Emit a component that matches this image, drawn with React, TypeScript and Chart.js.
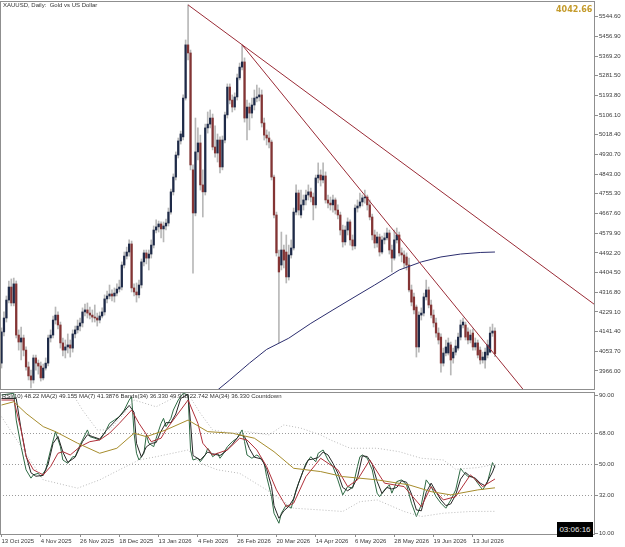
import React, { useEffect, useRef } from 'react';
import { Chart, registerables } from 'chart.js';

Chart.register(...registerables);

// ---------- DATA ----------
const dateLabels = ['13 Oct 2025', '4 Nov 2025', '26 Nov 2025', '18 Dec 2025', '13 Jan 2026', '4 Feb 2026', '26 Feb 2026', '20 Mar 2026', '14 Apr 2026', '6 May 2026', '28 May 2026', '19 Jun 2026', '13 Jul 2026'];
const dateBars = [0, 16, 32, 48, 64, 80, 96, 112, 128, 144, 160, 176, 192];

const priceTicks = [3966.0, 4053.7, 4141.4, 4229.1, 4316.8, 4404.5, 4492.2, 4579.9, 4667.6, 4755.3, 4843.0, 4930.7, 5018.4, 5106.1, 5193.8, 5281.5, 5369.2, 5456.9, 5544.6];
const rsiTicks = [10, 32, 50, 68, 90];
const rsiLevels = [32, 50, 68];

const openP = [4001,4140,4202,4282,4340,4269,4354,4126,4095,4113, 4059,3984,3944,3926,4024,4001,3988,3935,3979,4001, 4113,4126,4193,4215,4171,4091,4059,4073,4082,4068, 4131,4149,4166,4180,4229,4238,4224,4215,4206,4202, 4193,4211,4229,4287,4300,4309,4300,4313,4331,4340, 4438,4478,4496,4532,4336,4318,4305,4349,4452,4492, 4469,4487,4527,4594,4608,4621,4599,4612,4625,4674, 4764,4830,4928,4991,5009,5182,5419,5383,4862,4670, 4942,4982,4795,4764,5049,5066,5093,4964,4937,4995, 4875,4995,5107,5231,5173,5142,5187,5272,5320,5343, 5093,5142,5115,5151,5182,5187,5196,5071,5017,5004, 4986,4830,4661,4474,4438,4505,4496,4385,4483,4514, 4674,4759,4661,4706,4728,4750,4764,4741,4706,4826, 4839,4817,4835,4728,4714,4706,4728,4683,4661,4594, 4541,4594,4630,4550,4523,4692,4701,4719,4737,4741, 4706,4652,4572,4536,4563,4496,4550,4559,4581,4505, 4469,4550,4572,4492,4483,4474,4438,4327,4296,4251, 4073,4215,4224,4296,4327,4260,4215,4180,4135,4117, 4001,4046,4046,4082,4024,4050,4068,4117,4171,4171, 4140,4104,4135,4073,4091,4059,4015,4015,4037,4050, 4135,4144];
const highP = [4158,4229,4300,4367,4376,4380,4367,4149,4162,4126, 4073,4006,3970,4037,4037,4015,4006,3997,4024,4126, 4149,4211,4251,4229,4184,4113,4104,4131,4104,4149, 4166,4193,4202,4247,4264,4269,4251,4238,4260,4224, 4229,4247,4305,4322,4349,4327,4336,4354,4371,4452, 4496,4518,4550,4545,4354,4358,4371,4465,4505,4505, 4505,4550,4612,4639,4634,4630,4630,4643,4692,4777, 4844,4942,5004,5035,5196,5441,5597,5396,4884,5093, 5049,5017,4862,5066,5120,5129,5111,5058,5022,5009, 5013,5120,5245,5245,5196,5205,5289,5338,5419,5361, 5173,5160,5182,5218,5240,5227,5218,5093,5040,5031, 4995,4839,4674,4505,4585,4527,4572,4527,4550,4692, 4795,4772,4772,4750,4772,4795,4781,4759,4839,4893, 4862,4893,4853,4750,4741,4750,4737,4706,4674,4616, 4612,4648,4639,4572,4706,4728,4759,4750,4772,4750, 4728,4665,4594,4585,4576,4567,4581,4603,4594,4527, 4594,4603,4585,4514,4501,4492,4469,4349,4313,4260, 4229,4247,4313,4371,4340,4282,4238,4202,4158,4131, 4068,4104,4113,4095,4068,4104,4135,4193,4202,4184, 4158,4149,4153,4113,4104,4073,4050,4068,4104,4162, 4175,4158];
const lowP = [3979,4122,4184,4269,4256,4256,4113,4059,4015,4033, 3970,3926,3890,3912,3970,3952,3921,3926,3970,3988, 4095,4113,4175,4153,4068,4033,4024,4046,4028,4050, 4113,4135,4144,4162,4211,4202,4198,4184,4184,4166, 4180,4202,4215,4269,4287,4278,4273,4300,4318,4327, 4425,4465,4478,4318,4300,4273,4291,4336,4434,4443, 4416,4469,4514,4581,4585,4559,4541,4594,4612,4665, 4750,4817,4915,4977,4995,5173,5352,4862,4402,4657, 4906,4772,4652,4750,5026,5049,4951,4919,4897,4848, 4862,4982,5093,5156,5120,5129,5173,5263,5307,5075, 4995,5040,5093,5129,5165,5169,5053,4995,4973,4960, 4817,4648,4478,4091,4416,4425,4358,4371,4469,4505, 4661,4661,4648,4683,4706,4728,4719,4639,4692,4804, 4790,4804,4714,4692,4683,4674,4665,4643,4572,4518, 4527,4572,4527,4505,4510,4674,4692,4701,4714,4683, 4639,4550,4514,4518,4478,4487,4532,4550,4487,4407, 4460,4536,4478,4452,4425,4416,4318,4256,4220,4028, 4050,4193,4211,4282,4247,4202,4162,4117,4086,3961, 3988,4033,4037,3948,4001,4037,4059,4104,4158,4104, 4086,4091,4059,4059,4024,3997,4001,3979,4024,4046, 4120,4030];
const closeP = [4140,4202,4282,4340,4269,4354,4126,4095,4113,4059, 3984,3944,3926,4024,4001,3988,3935,3979,4001,4113, 4126,4193,4215,4171,4091,4059,4073,4082,4068,4131, 4149,4166,4180,4229,4238,4224,4215,4206,4202,4193, 4211,4229,4287,4300,4309,4300,4313,4331,4340,4438, 4478,4496,4532,4336,4318,4305,4349,4452,4492,4469, 4487,4527,4594,4608,4621,4599,4612,4625,4674,4764, 4830,4928,4991,5022,5182,5419,5383,4884,4670,4942, 4982,4795,4764,5049,5066,5093,4964,4937,4995,4875, 4995,5107,5231,5173,5142,5187,5272,5320,5343,5093, 5142,5115,5151,5182,5187,5196,5071,5017,5004,4986, 4830,4661,4492,4407,4505,4460,4385,4483,4514,4674, 4759,4683,4706,4728,4750,4764,4741,4706,4826,4839, 4817,4835,4728,4714,4706,4728,4683,4661,4594,4541, 4594,4630,4550,4523,4692,4701,4719,4737,4741,4706, 4652,4572,4536,4563,4496,4550,4559,4581,4505,4469, 4550,4572,4492,4483,4447,4438,4327,4273,4238,4073, 4215,4224,4296,4327,4260,4215,4180,4135,4104,4001, 4046,4073,4091,4015,4050,4077,4117,4171,4184,4117, 4104,4126,4073,4091,4037,4015,4028,4050,4082,4135, 4144,4042.66];

// moving average on price (bar index, price)
const maBars = [87, 93, 101, 108, 117, 126, 135, 144, 152, 162, 171, 179, 187, 195, 201];
const maVals = [3872, 3926, 4001, 4062, 4112, 4178, 4238, 4297, 4349, 4416, 4452, 4474, 4487, 4494, 4496];

// trend lines (bar index, price)
const trendABars = [76, 250];
const trendAVals = [5597, 4194];
const trendBBars = [98, 220];
const trendBVals = [5419, 3783];

// RSI panel
const rsiBars = [0,5,6,8,10,12,13,15,16,18,20,22,24,25,27,29,30,32,35,36,38,40,42,44,46,48,50,52,53,54,55,56,58,59,60,62,63,65,66,67,69,70,72,74,76,77,78,80,81,83,84,85,86,88,89,90,92,94,96,98,99,100,102,104,105,107,108,110,111,113,114,116,118,120,122,124,126,128,129,131,133,135,137,139,141,143,145,146,147,149,151,153,154,156,158,159,161,163,165,167,169,171,173,175,177,179,181,183,185,187,188,190,192,193,195,196,198,200,201];
const rsiVals = [90.0,91.0,75.5,60.1,46.7,41.9,43.8,44.7,42.8,46.7,58.2,68.8,60.1,52.4,50.5,54.3,54.3,61.1,69.8,65.9,65.0,64.0,67.9,73.6,75.5,77.5,81.3,87.1,89.0,67.9,56.3,52.4,56.3,66.9,62.1,60.1,65.0,73.6,76.5,71.7,76.5,81.3,87.1,91.0,90.0,58.2,52.4,53.4,51.4,55.3,59.2,57.2,54.3,56.3,53.4,55.3,60.1,63.0,65.0,69.8,63.0,55.3,53.4,55.3,54.3,50.5,42.8,31.2,21.6,15.8,21.6,26.4,24.5,35.1,42.8,50.5,54.3,51.4,56.3,58.2,52.4,48.6,40.9,32.2,37.0,36.1,48.6,54.3,55.3,53.4,46.7,33.2,31.2,35.1,38.0,33.2,39.9,40.9,38.0,27.4,19.7,26.4,40.9,37.0,31.2,27.4,24.5,29.3,35.1,47.6,45.7,42.8,42.8,40.9,37.0,35.1,39.9,50.9,48.2];

const ma2Bars = [0,6,8,10,12,14,17,19,21,23,25,27,30,33,35,37,40,43,46,49,52,54,55,57,59,61,63,65,67,69,71,73,76,77,78,81,84,86,89,91,94,97,99,101,103,106,108,110,111,113,115,117,119,121,123,125,127,129,131,133,135,137,139,141,143,145,147,149,151,153,155,157,159,161,163,165,167,169,171,173,175,177,179,181,183,185,187,189,191,193,195,197,200,201];
const ma2Vals = [88,88,70,55,45,43,43.5,50,62,66,57,51,54,63,67,66,64.5,70,74.5,79,84,80,62,54,60,62,62.5,69,74,74,79,88,90.5,74,55,52.4,57,56,55,57,61.5,67,66,59,54,53,47,37,26,18.7,23,25.5,30,39,46.5,52.5,53,53.8,57,55.3,50.5,44.8,36.5,34.6,36.6,42.3,54.8,54.4,50,40,33,36.5,35.6,36.5,40.4,39.5,32.7,23.5,23,33.6,39,34,29.3,26,27,32.2,41.3,45.2,42.8,41.9,39,37.5,45.4,49.2];

const ma7Bars = [0,5,8,10,13,17,20,23,25,28,32,36,40,44,48,53,56,61,65,67,71,76,80,82,86,92,97,100,104,108,112,116,119,124,130,137,141,145,150,156,164,171,175,180,185,191,196,201];
const ma7Vals = [87.1,87.1,69.8,54.3,46.7,43.8,48.6,56.3,57.2,55.3,60.1,63.0,64.0,67.9,73.6,81.3,73.6,63.0,65.0,69.8,77.5,87.1,73.6,62.1,55.3,58.2,65.0,64.0,58.2,48.6,35.1,25.4,27.4,42.8,53.4,46.7,37.0,40.9,52.4,39.0,37.0,25.4,37.0,29.3,31.2,43.8,37.0,41.4];

const ma34Bars = [0,5,10,17,22,31,40,47,54,59,67,76,84,94,103,111,119,130,139,153,166,175,183,194,201];
const ma34Vals = [84.2,86.1,79.4,71.7,68.8,62.1,56.3,59.2,67.9,65.9,69.8,75.5,68.8,67.9,65.0,57.2,47.6,45.7,42.8,40.9,38.0,34.1,32.2,35.1,36.3];

const bandUpBars = [28,33,39,44,50,54,63,71,75,81,86,94,100,109,115,122,130,134,142,153,162,171,180,185,194,201];
const bandUpVals = [93.0,81.3,69.8,69.8,79.4,87.1,83.2,89.0,92.9,79.4,69.8,67.9,68.8,66.9,72.7,70.8,66.9,64.0,59.2,59.2,57.2,53.4,52.4,47.0,48.0,49.9];

const bandLoBars = [0,8,17,31,40,48,56,63,76,81,88,97,108,119,130,139,146,153,164,171,180,191,201];
const bandLoVals = [77.5,60.1,40.9,36.1,40.9,46.7,52.4,54.3,58.2,50.5,46.7,44.7,35.1,24.5,23.5,22.6,28.3,29.3,22.6,19.7,21.6,22.6,22.7];

// ---------- STYLE ----------
const FONT = "'Liberation Sans', Arial, sans-serif";
const X_MIN = -0.61;
const X_MAX = 241.75;
const BULL = '#1e2a48';
const BEAR = '#843434';
const WICK = '#b8b8b8';
const TREND = '#9a2b36';

const pts = (xs: number[], ys: number[]) => xs.map((x, i) => ({ x, y: ys[i] }));

const framePlugin = {
  id: 'frame',
  afterDraw(chart: any) {
    const { ctx, chartArea: a } = chart;
    ctx.save();
    ctx.strokeStyle = '#8f8f8f';
    ctx.lineWidth = 1;
    ctx.strokeRect(a.left + 0.5, a.top + 0.5, a.right - a.left - 1, a.bottom - a.top - 1);
    ctx.restore();
  },
};

export default function App() {
  const mainRef = useRef<HTMLCanvasElement>(null);
  const rsiRef = useRef<HTMLCanvasElement>(null);

  useEffect(() => {
    const idx = openP.map((_, i) => i);
    const bodies = idx.map((i) => ({ x: i, y: [Math.min(openP[i], closeP[i]), Math.max(openP[i], closeP[i])] }));
    const wicks = idx.map((i) => ({ x: i, y: [lowP[i], highP[i]] }));
    const bodyColors = idx.map((i) => (closeP[i] >= openP[i] ? BULL : BEAR));

    const line = (data: any[], color: string, extra: any = {}) => ({
      type: 'line',
      data,
      borderColor: color,
      borderWidth: 1,
      pointRadius: 0,
      tension: 0,
      fill: false,
      ...extra,
    });

    const main = new Chart(mainRef.current as HTMLCanvasElement, {
      type: 'bar',
      data: {
        datasets: [
          line(pts(trendABars, trendAVals), TREND, { order: 0 }),
          line(pts(trendBBars, trendBVals), TREND, { order: 0 }),
          line(pts(maBars, maVals), '#2b2d6e', { order: 1 }),
          { type: 'bar', data: bodies, backgroundColor: bodyColors, barThickness: 1.6, grouped: false, minBarLength: 1, order: 2 },
          { type: 'bar', data: wicks, backgroundColor: WICK, barThickness: 1, grouped: false, order: 3 },
        ] as any,
      },
      options: {
        animation: false,
        responsive: false,
        maintainAspectRatio: false,
        layout: { padding: { top: 1, bottom: 1, left: 0, right: 0 } },
        plugins: { legend: { display: false }, tooltip: { enabled: false } },
        scales: {
          x: { type: 'linear', display: false, min: X_MIN, max: X_MAX, offset: false },
          y: {
            position: 'right',
            min: 3881.2,
            max: 5614.5,
            afterBuildTicks: (s: any) => { s.ticks = priceTicks.map((v) => ({ value: v })); },
            afterFit: (s: any) => { s.width = 30; s.paddingTop = 0; s.paddingBottom = 0; },
            ticks: { font: { family: FONT, size: 6 }, color: '#3a3a3a', padding: 1, callback: (v: any) => Number(v).toFixed(2) },
            grid: { drawOnChartArea: false, tickLength: 3, color: '#8f8f8f' },
            border: { display: false },
          },
        },
      } as any,
      plugins: [framePlugin],
    });

    const rsi = new Chart(rsiRef.current as HTMLCanvasElement, {
      type: 'line',
      data: {
        datasets: [
          line(pts(bandUpBars, bandUpVals), '#b9b9b9', { borderDash: [1, 2] }),
          line(pts(bandLoBars, bandLoVals), '#b9b9b9', { borderDash: [1, 2] }),
          line(pts(ma34Bars, ma34Vals), '#a68c2c'),
          line(pts(ma7Bars, ma7Vals), '#b0303a'),
          line(pts(ma2Bars, ma2Vals), '#262626'),
          line(pts(rsiBars, rsiVals), '#2e6a44'),
        ] as any,
      },
      options: {
        animation: false,
        responsive: false,
        maintainAspectRatio: false,
        layout: { padding: { top: 1, bottom: 0, left: 0, right: 0 } },
        plugins: { legend: { display: false }, tooltip: { enabled: false } },
        scales: {
          x: {
            type: 'linear',
            min: X_MIN,
            max: X_MAX,
            offset: false,
            afterBuildTicks: (s: any) => { s.ticks = dateBars.map((v) => ({ value: v })); },
            afterFit: (s: any) => { s.height = 12; s.paddingLeft = 0; s.paddingRight = 0; },
            ticks: {
              autoSkip: false,
              maxRotation: 0,
              align: 'start',
              padding: 1,
              font: { family: FONT, size: 6 },
              color: '#3a3a3a',
              callback: (v: any) => dateLabels[dateBars.indexOf(Number(v))] ?? '',
            },
            grid: { drawOnChartArea: false, tickLength: 2, color: '#8f8f8f' },
            border: { display: false },
          },
          y: {
            position: 'right',
            min: 9.0,
            max: 91.74,
            afterBuildTicks: (s: any) => { s.ticks = rsiTicks.map((v) => ({ value: v })); },
            afterFit: (s: any) => { s.width = 30; s.paddingTop = 0; s.paddingBottom = 0; },
            ticks: { font: { family: FONT, size: 6 }, color: '#3a3a3a', padding: 1, callback: (v: any) => Number(v).toFixed(2) },
            grid: {
              drawOnChartArea: true,
              tickLength: 3,
              color: (c: any) => (c.tick && rsiLevels.includes(c.tick.value) ? '#9a9a9a' : 'rgba(0,0,0,0)'),
              tickColor: '#8f8f8f',
            },
            border: { display: false, dash: [1, 2] },
          },
        },
      } as any,
      plugins: [framePlugin],
    });

    return () => {
      main.destroy();
      rsi.destroy();
    };
  }, []);

  const small: React.CSSProperties = { position: 'absolute', fontFamily: FONT, fontSize: 6, lineHeight: '7px', color: '#333', whiteSpace: 'pre' };

  return (
    <div style={{ position: 'absolute', left: 0, top: 0, width: 625, height: 547, background: '#fff', overflow: 'hidden' }}>
      <canvas ref={mainRef} width={625} height={391} style={{ position: 'absolute', left: 0, top: 0, width: 625, height: 391 }} />
      <canvas ref={rsiRef} width={625} height={156} style={{ position: 'absolute', left: 0, top: 391, width: 625, height: 156 }} />
      <div style={{ ...small, left: 3, top: 2 }}>{'XAUUSD, Daily:  Gold vs US Dollar'}</div>
      <div style={{ position: 'absolute', left: 556, top: 5, fontFamily: "'DejaVu Sans', sans-serif", fontWeight: 'bold', fontSize: 8, lineHeight: '10px', color: '#c49b2c' }}>4042.66</div>
      <div style={{ ...small, left: 2, top: 393 }}>{'RSI(10) 48.22 MA(2) 49.155 MA(7) 41.3876 Bands(34) 36.330 49.918 22.742 MA(34) 36.330 Countdown'}</div>
      <div style={{ position: 'absolute', left: 557, top: 522, width: 36, height: 15, background: '#000', color: '#e6e6e6', fontFamily: FONT, fontSize: 8, lineHeight: '15px', textAlign: 'center' }}>03:06:16</div>
    </div>
  );
}
